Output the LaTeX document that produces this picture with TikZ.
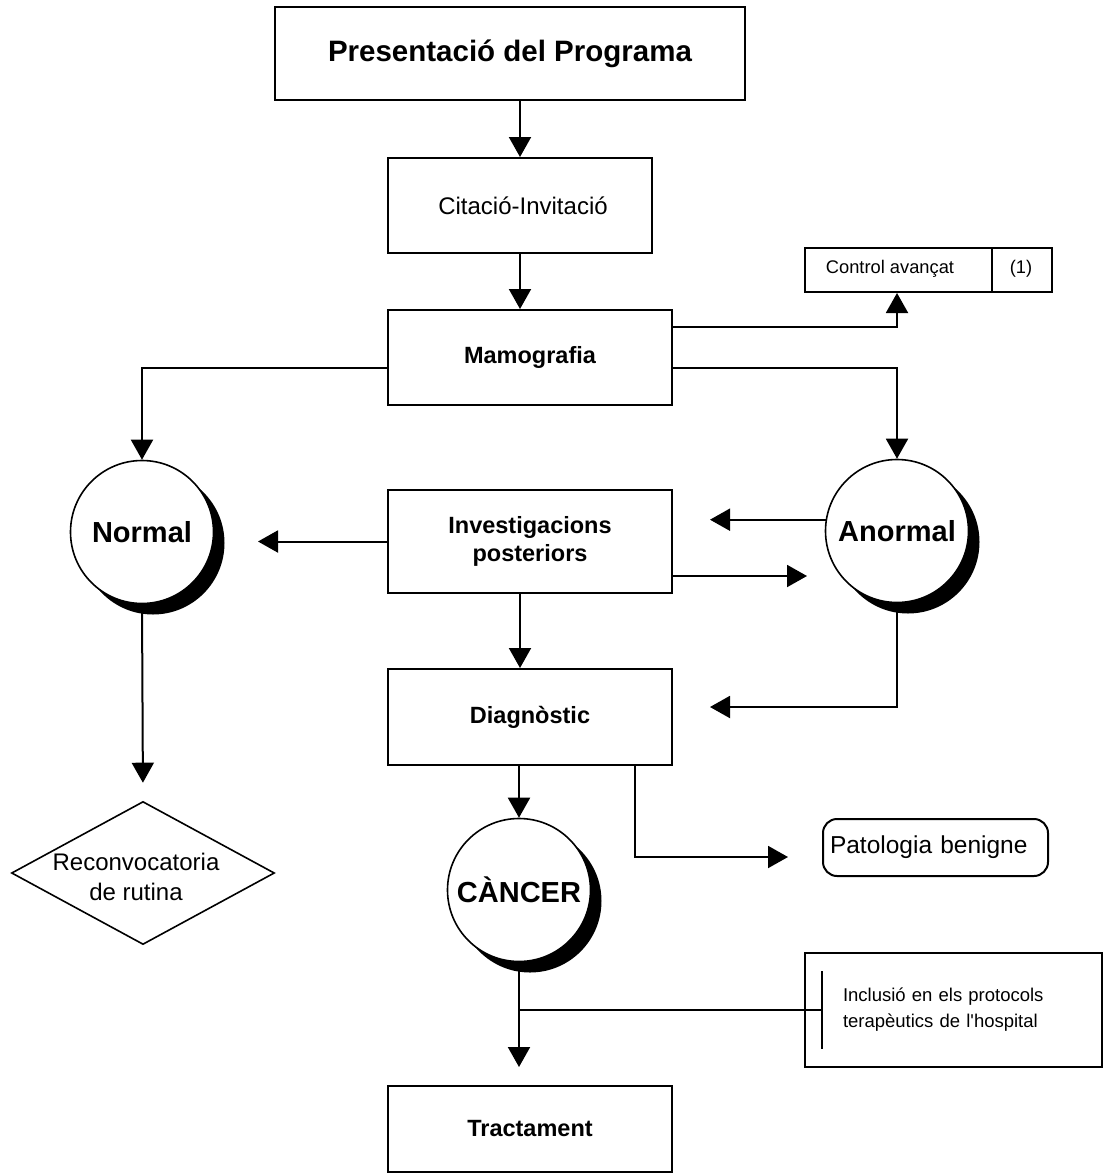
\documentclass[tikz,border=0pt]{standalone}
\usepackage{fontspec}
\setmainfont{Liberation Sans}[Ligatures=TeXOff]
\usetikzlibrary{arrows.meta,shapes.geometric,shadows,calc}
\begin{document}
\begin{tikzpicture}[x=1pt,y=-1pt,line width=2pt,
  box/.style={draw,rectangle,inner sep=0pt,line width=2pt,align=center},
  bigb/.style={font=\fontsize{23.5}{28}\selectfont\bfseries},
  circ/.style={draw,circle,fill=white,minimum size=143pt,inner sep=0pt,line width=1.6pt,
    font=\fontsize{29}{34}\selectfont\bfseries,
    drop shadow={shadow xshift=11pt,shadow yshift=-11pt,fill=black,opacity=1}},
  arr/.style={-{Triangle[length=20pt,width=22pt]}}]
\useasboundingbox[fill=white] (0,0) rectangle (1103,1176);
\coordinate (ax) at (520,0);
% boxes
\node[box,minimum width=470pt,minimum height=93pt,font=\fontsize{29.5}{34}\selectfont\bfseries] (pres) at (510,53.5) {Presentació del Programa};
\node[box,minimum width=264pt,minimum height=95pt,font=\fontsize{24}{29}\selectfont] (cit) at (520,205.5) {\hspace*{6pt}Citació-Invitació};
\node[box,minimum width=284pt,minimum height=95pt,bigb] (mamo) at (530,357.5) {Mamografia};
\node[box,minimum width=284pt,minimum height=103pt,bigb] (inv) at (530,541.5) {Investigacions\\posteriors};
\node[box,minimum width=284pt,minimum height=96pt,bigb] (diag) at (530,717) {Diagnòstic};
\node[box,minimum width=284pt,minimum height=86pt,bigb] (tract) at (530,1129) {Tractament};
% control box
\node[box,minimum width=247pt,minimum height=44pt] (ctrl) at (928.5,270) {};
\draw ([xshift=188pt]ctrl.north west) -- ([xshift=188pt]ctrl.south west);
\node[font=\fontsize{18.3}{22}\selectfont] (ctrlt) at (890,269) {Control avançat};
\node[font=\fontsize{18.3}{22}\selectfont] (ctrln) at (1021,269) {(1)};
% circles
\node[circ] (norm) at (142,532) {Normal};
\node[circ] (anorm) at (897,531) {Anormal};
\node[circ] (canc) at (519,890) {CÀNCER};
% diamond
\node[draw,diamond,minimum width=263pt,minimum height=143pt,inner sep=0pt,line width=1.6pt] (recon) at (143,873) {};
\node[align=center,font=\fontsize{24}{30}\selectfont] (recont) at (136,877) {Reconvocatoria\\de rutina};
% patologia
\node[draw,rounded corners=14pt,minimum width=225pt,minimum height=57pt,text width=211pt,inner xsep=7pt,align=left,font=\fontsize{24.5}{29}\selectfont] (pat) at (935.5,847.5) {Patologia benigne};
% inclusio
\node[draw,minimum width=297pt,minimum height=114pt,text width=221pt,inner xsep=38pt,align=left,font=\fontsize{18.5}{26}\selectfont] (incl) at (953.5,1010) {Inclusió en els protocols\\terapèutics de l'hospital};
\draw ([xshift=18pt,yshift=-19pt]incl.north west) -- ([xshift=18pt,yshift=19pt]incl.south west);
% connectors
\draw[arr] (pres.south -| ax) -- (cit.north -| ax);
\draw[arr] (cit.south -| ax) -- (mamo.north -| ax);
\draw[arr] ([yshift=-18pt]mamo.north east) -| (ctrl.south -| anorm.north);
\draw[arr] ([yshift=-10.5pt]mamo.east) -| (anorm.north);
\draw[arr] ([yshift=-10.5pt]mamo.west) -| (norm.north);
\coordinate (iL) at (258,541.5);
\draw[arr] (inv.west) -- (iL);
\coordinate (aL) at (710,0);
\draw[arr] (anorm.171) -- (aL |- anorm.171);
\coordinate (iR) at (807,576);
\draw[arr] (iR -| inv.east) -- (iR);
\draw[arr] (inv.south -| ax) -- (diag.north -| ax);
\coordinate (dR) at (710,707);
\draw[arr] (anorm.south) |- (dR);
\draw[arr] (diag.south -| canc.north) -- (canc.north);
\coordinate (pR) at (788,857);
\draw[arr] ([xshift=105pt]diag.south) |- (pR);
\draw[arr,shorten >=18pt] (norm.south) -- (recon.north);
\draw[arr,shorten >=18pt] (canc.south) -- (canc.south |- tract.north);
\draw (canc.south |- incl.west) -- ([xshift=18pt]incl.west);
\end{tikzpicture}
\end{document}
